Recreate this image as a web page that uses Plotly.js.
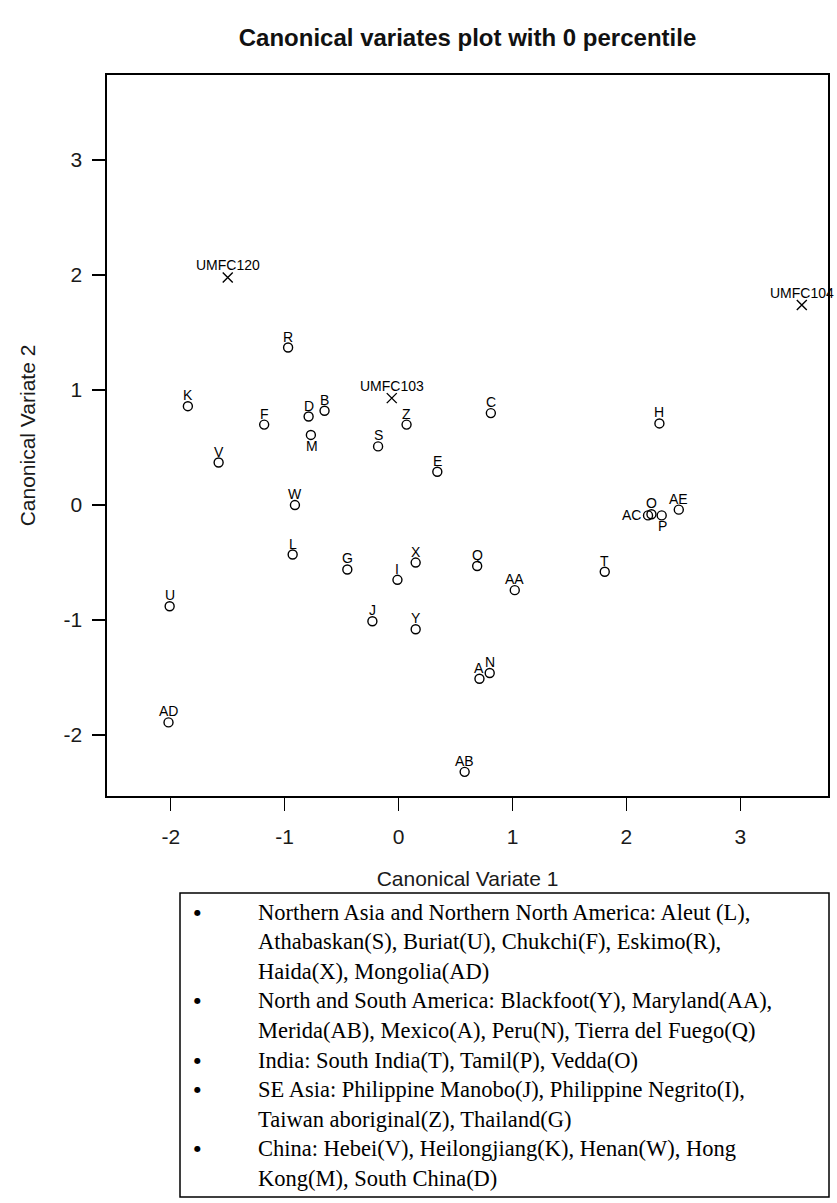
<!DOCTYPE html>
<html>
<head>
<meta charset="utf-8">
<script src="https://cdn.plot.ly/plotly-3.0.1.min.js"></script>
<style>html,body{margin:0;padding:0;background:#fff;}#chart{width:837px;height:1203px;}</style>
</head>
<body>
<div id="chart"></div>
<script>
// Group centroids (populations)
const popLabels = ['A','B','C','D','E','F','G','H','I','J','K','L','M','N','O','P','Q','R','S','T','U','V','W','X','Y','Z','AA','AB','AC','AD','AE'];
const popCV1 = [0.71,-0.65,0.81,-0.79,0.34,-1.18,-0.45,2.29,-0.01,-0.23,-1.85,-0.93,-0.77,0.80,2.22,2.31,0.69,-0.97,-0.18,1.81,-2.01,-1.58,-0.91,0.15,0.15,0.07,1.02,0.58,2.19,-2.02,2.46];
const popCV2 = [-1.51,0.82,0.80,0.77,0.29,0.70,-0.56,0.71,-0.65,-1.01,0.86,-0.43,0.61,-1.46,-0.08,-0.09,-0.53,1.37,0.51,-0.58,-0.88,0.37,0.00,-0.50,-1.08,0.70,-0.74,-2.32,-0.09,-1.89,-0.04];
// label side relative to the point: above by default
const popLabelSide = popLabels.map(l => (l === 'M' || l === 'P') ? 'below' : (l === 'AC' ? 'left' : 'above'));

// Unknown specimens
const unkLabels = ['UMFC120','UMFC103','UMFC104'];
const unkCV1 = [-1.50,-0.06,3.54];
const unkCV2 = [1.98,0.93,1.74];

// Tick values
const xTicks = [-2,-1,0,1,2,3];
const yTicks = [-2,-1,0,1,2,3];

// Legend text below the chart
const legendGroups = [
  ['Northern Asia and Northern North America: Aleut (L),', 'Athabaskan(S), Buriat(U), Chukchi(F), Eskimo(R),', 'Haida(X), Mongolia(AD)'],
  ['North and South America: Blackfoot(Y), Maryland(AA),', 'Merida(AB), Mexico(A), Peru(N), Tierra del Fuego(Q)'],
  ['India: South India(T), Tamil(P), Vedda(O)'],
  ['SE Asia: Philippine Manobo(J), Philippine Negrito(I),', 'Taiwan aboriginal(Z), Thailand(G)'],
  ['China: Hebei(V), Heilongjiang(K), Henan(W), Hong', 'Kong(M), South China(D)']
];

const W = 837, H = 1203;
const M = {l:107, r:9, t:75, b:407};
const PW = W - M.l - M.r, PH = H - M.t - M.b;
const px = x => (x - M.l) / PW;
const py = y => (H - M.b - y) / PH;

const labelFont = {family:'Arial, Liberation Sans, sans-serif', size:14, color:'#000'};

const traces = [
  {
    type:'scatter', mode:'markers',
    x: popCV1, y: popCV2,
    marker:{symbol:'circle-open', size:9, color:'#000', line:{width:1.4, color:'#000'}},
    cliponaxis:false, hoverinfo:'skip', showlegend:false
  },
  {
    type:'scatter', mode:'markers',
    x: unkCV1, y: unkCV2,
    marker:{symbol:'x-thin-open', size:10, color:'#000', line:{width:1.4, color:'#000'}},
    cliponaxis:false, hoverinfo:'skip', showlegend:false
  }
];

const annotations = [];
popLabels.forEach((t, i) => {
  const side = popLabelSide[i];
  const a = {xref:'x', yref:'y', x:popCV1[i], y:popCV2[i], text:t, showarrow:false, font:labelFont,
    xanchor:'center', yanchor:'middle', xshift:0, yshift:11};
  if (side === 'below') { a.yshift = -11; a.xshift = 1; }
  if (side === 'left') { a.xanchor = 'right'; a.xshift = -5; a.yshift = 0; }
  annotations.push(a);
});
unkLabels.forEach((t, i) => {
  annotations.push({xref:'x', yref:'y', x:unkCV1[i], y:unkCV2[i], text:t, showarrow:false, font:labelFont,
    xanchor:'center', yanchor:'middle', yshift:12});
});

const shapes = [];
const legendFont = {family:'Liberation Serif, Times New Roman, serif', size:22.5, color:'#000'};
const lineStart = 912, lineGap = 29.6;
let li = 0;
legendGroups.forEach(group => {
  group.forEach((t, j) => {
    const yy = lineStart + li * lineGap;
    if (j === 0) {
      annotations.push({xref:'paper', yref:'paper', x:px(197), y:py(yy), xanchor:'center', yanchor:'middle',
        text:'\u25CF', showarrow:false, font:{family:'DejaVu Sans, sans-serif', size:8, color:'#000'}});
    }
    annotations.push({xref:'paper', yref:'paper', x:px(256), y:py(yy), xanchor:'left', yanchor:'middle',
      text:t, showarrow:false, font:legendFont});
    li++;
  });
});
shapes.push({type:'rect', xref:'paper', yref:'paper', x0:px(180), x1:px(829), y0:py(893), y1:py(1197),
  line:{color:'#000', width:1.5}, fillcolor:'rgba(0,0,0,0)'});

const tickFont = {family:'Arial, Liberation Sans, sans-serif', size:21, color:'#1a1a1a'};
const axTitleFont = {family:'Arial, Liberation Sans, sans-serif', size:21, color:'#1a1a1a'};
const layout = {
  width:W, height:H, margin:M,
  paper_bgcolor:'#fff', plot_bgcolor:'#fff',
  title:{text:'<b>Canonical variates plot with 0 percentile</b>', x:0.5, xref:'paper', y:1-38/H, yref:'container', yanchor:'middle',
    font:{family:'Arial, Liberation Sans, sans-serif', size:24, color:'#111'}},
  xaxis:{range:[-2.56,3.77], tickvals:xTicks, ticktext:xTicks.map(String), ticks:'outside', ticklen:13, tickwidth:1.3, tickcolor:'#000',
    showline:true, mirror:true, linecolor:'#000', linewidth:1.6, showgrid:false, zeroline:false,
    tickfont:tickFont, ticklabelstandoff:8,
    title:{text:'Canonical Variate 1', font:axTitleFont, standoff:24}},
  yaxis:{range:[-2.53,3.74], tickvals:yTicks, ticktext:yTicks.map(String), ticks:'outside', ticklen:13, tickwidth:1.3, tickcolor:'#000',
    showline:true, mirror:true, linecolor:'#000', linewidth:1.6, showgrid:false, zeroline:false,
    tickfont:tickFont, ticklabelstandoff:6,
    title:{text:'Canonical Variate 2', font:axTitleFont, standoff:22}},
  annotations, shapes
};
Plotly.newPlot('chart', traces, layout, {displayModeBar:false, staticPlot:true});
</script>
</body>
</html>
